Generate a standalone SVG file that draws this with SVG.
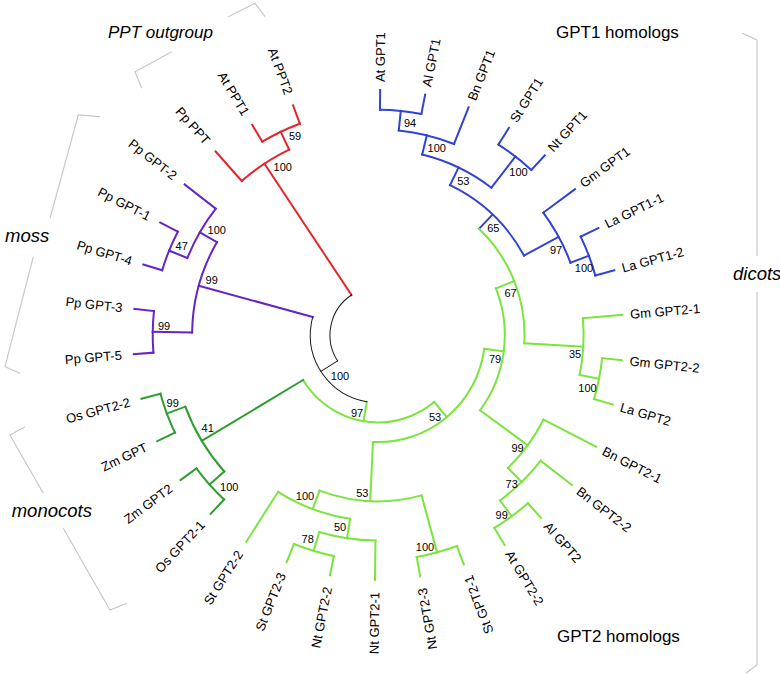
<svg xmlns="http://www.w3.org/2000/svg" width="780" height="675" viewBox="0 0 780 675">
<style>
line,circle{fill:none;stroke-width:2;stroke-linecap:square}
.b line,.b circle{stroke:#3043d2}
.g line,.g circle{stroke:#7be53d}
.d line,.d circle{stroke:#2f9e2f}
.p line,.p circle{stroke:#6425c8}
.r line,.r circle{stroke:#e3262b}
.k line,.k circle{stroke:#1a1a1a;stroke-width:1}
text{font-family:"Liberation Sans",Arial,sans-serif;fill:#000}
.lf text{font-size:13px;dominant-baseline:central}
.lf .f{text-anchor:end}
.bs text{font-size:11px;text-anchor:middle;dominant-baseline:central}
.cl text{font-size:17px}
.cl .i{font-style:italic;font-size:18.5px}
.br{fill:none;stroke:#c8c8c8;stroke-width:1.2}
</style>
<rect width="780" height="675" fill="#fff"/>
<g id="connectors" transform="translate(378,335)">
 <g class="b">
  <line x1="225.3" x2="245" transform="rotate(270.5)"/>
  <line x1="225.3" x2="245" transform="rotate(281.1)"/>
  <line x1="205.6" x2="245" transform="rotate(291.7)"/>
  <line x1="225.3" x2="245" transform="rotate(302.3)"/>
  <line x1="225.3" x2="245" transform="rotate(312.9)"/>
  <line x1="205.6" x2="245" transform="rotate(323.5)"/>
  <line x1="225.3" x2="245" transform="rotate(334.1)"/>
  <line x1="225.3" x2="245" transform="rotate(344.7)"/>
  <line x1="205.6" x2="225.3" transform="rotate(275.8)"/>
  <line x1="185.9" x2="205.6" transform="rotate(283.75)"/>
  <line x1="185.9" x2="225.3" transform="rotate(307.6)"/>
  <line x1="166.2" x2="185.9" transform="rotate(295.68)"/>
  <line x1="205.6" x2="225.3" transform="rotate(339.4)"/>
  <line x1="166.2" x2="205.6" transform="rotate(331.45)"/>
  <line x1="146.5" x2="166.2" transform="rotate(313.56)"/>
  <circle r="225.3" pathLength="360" stroke-dasharray="10.6 360" transform="rotate(270.5)"/>
  <circle r="205.6" pathLength="360" stroke-dasharray="15.9 360" transform="rotate(275.8)"/>
  <circle r="225.3" pathLength="360" stroke-dasharray="10.6 360" transform="rotate(302.3)"/>
  <circle r="185.9" pathLength="360" stroke-dasharray="23.85 360" transform="rotate(283.75)"/>
  <circle r="225.3" pathLength="360" stroke-dasharray="10.6 360" transform="rotate(334.1)"/>
  <circle r="205.6" pathLength="360" stroke-dasharray="15.9 360" transform="rotate(323.5)"/>
  <circle r="166.2" pathLength="360" stroke-dasharray="35.77 360" transform="rotate(295.68)"/>
 </g>
 <g class="g">
  <line x1="205.6" x2="245" transform="rotate(355.3)"/>
  <line x1="225.3" x2="245" transform="rotate(365.9)"/>
  <line x1="225.3" x2="245" transform="rotate(376.5)"/>
  <line x1="185.9" x2="245" transform="rotate(387.1)"/>
  <line x1="205.6" x2="245" transform="rotate(397.7)"/>
  <line x1="225.3" x2="245" transform="rotate(408.3)"/>
  <line x1="225.3" x2="245" transform="rotate(418.9)"/>
  <line x1="225.3" x2="245" transform="rotate(429.5)"/>
  <line x1="225.3" x2="245" transform="rotate(440.1)"/>
  <line x1="205.6" x2="245" transform="rotate(450.7)"/>
  <line x1="225.3" x2="245" transform="rotate(461.3)"/>
  <line x1="225.3" x2="245" transform="rotate(471.9)"/>
  <line x1="185.9" x2="245" transform="rotate(482.5)"/>
  <line x1="205.6" x2="225.3" transform="rotate(371.2)"/>
  <line x1="146.5" x2="205.6" transform="rotate(363.25)"/>
  <line x1="126.8" x2="146.5" transform="rotate(338.41)"/>
  <line x1="205.6" x2="225.3" transform="rotate(413.6)"/>
  <line x1="185.9" x2="205.6" transform="rotate(405.65)"/>
  <line x1="126.8" x2="185.9" transform="rotate(396.38)"/>
  <line x1="107.1" x2="126.8" transform="rotate(367.39)"/>
  <line x1="166.2" x2="225.3" transform="rotate(434.8)"/>
  <line x1="205.6" x2="225.3" transform="rotate(466.6)"/>
  <line x1="185.9" x2="205.6" transform="rotate(458.65)"/>
  <line x1="166.2" x2="185.9" transform="rotate(470.58)"/>
  <line x1="107.1" x2="166.2" transform="rotate(452.69)"/>
  <line x1="87.4" x2="107.1" transform="rotate(410.04)"/>
  <line x1="67.7" x2="87.4" transform="rotate(459.52)"/>
  <circle r="225.3" pathLength="360" stroke-dasharray="10.6 360" transform="rotate(365.9)"/>
  <circle r="205.6" pathLength="360" stroke-dasharray="15.9 360" transform="rotate(355.3)"/>
  <circle r="146.5" pathLength="360" stroke-dasharray="49.69 360" transform="rotate(313.56)"/>
  <circle r="225.3" pathLength="360" stroke-dasharray="10.6 360" transform="rotate(408.3)"/>
  <circle r="205.6" pathLength="360" stroke-dasharray="15.9 360" transform="rotate(397.7)"/>
  <circle r="185.9" pathLength="360" stroke-dasharray="18.55 360" transform="rotate(387.1)"/>
  <circle r="126.8" pathLength="360" stroke-dasharray="57.97 360" transform="rotate(338.41)"/>
  <circle r="225.3" pathLength="360" stroke-dasharray="10.6 360" transform="rotate(429.5)"/>
  <circle r="225.3" pathLength="360" stroke-dasharray="10.6 360" transform="rotate(461.3)"/>
  <circle r="205.6" pathLength="360" stroke-dasharray="15.9 360" transform="rotate(450.7)"/>
  <circle r="185.9" pathLength="360" stroke-dasharray="23.85 360" transform="rotate(458.65)"/>
  <circle r="166.2" pathLength="360" stroke-dasharray="35.78 360" transform="rotate(434.8)"/>
  <circle r="107.1" pathLength="360" stroke-dasharray="85.3 360" transform="rotate(367.39)"/>
  <circle r="87.4" pathLength="360" stroke-dasharray="98.96 360" transform="rotate(410.04)"/>
 </g>
 <g class="d">
  <line x1="225.3" x2="245" transform="rotate(493.1)"/>
  <line x1="225.3" x2="245" transform="rotate(503.7)"/>
  <line x1="225.3" x2="245" transform="rotate(514.3)"/>
  <line x1="225.3" x2="245" transform="rotate(524.9)"/>
  <line x1="205.6" x2="225.3" transform="rotate(498.4)"/>
  <line x1="205.6" x2="225.3" transform="rotate(519.6)"/>
  <line x1="87.4" x2="205.6" transform="rotate(509)"/>
  <circle r="225.3" pathLength="360" stroke-dasharray="10.6 360" transform="rotate(493.1)"/>
  <circle r="225.3" pathLength="360" stroke-dasharray="10.6 360" transform="rotate(514.3)"/>
  <circle r="205.6" pathLength="360" stroke-dasharray="21.2 360" transform="rotate(498.4)"/>
 </g>
 <g class="p">
  <line x1="225.3" x2="245" transform="rotate(535.5)"/>
  <line x1="225.3" x2="245" transform="rotate(546.1)"/>
  <line x1="225.3" x2="245" transform="rotate(556.7)"/>
  <line x1="225.3" x2="245" transform="rotate(567.3)"/>
  <line x1="205.6" x2="245" transform="rotate(577.9)"/>
  <line x1="185.9" x2="225.3" transform="rotate(540.8)"/>
  <line x1="205.6" x2="225.3" transform="rotate(562)"/>
  <line x1="185.9" x2="205.6" transform="rotate(569.95)"/>
  <line x1="67.7" x2="185.9" transform="rotate(555.38)"/>
  <circle r="225.3" pathLength="360" stroke-dasharray="10.6 360" transform="rotate(535.5)"/>
  <circle r="225.3" pathLength="360" stroke-dasharray="10.6 360" transform="rotate(556.7)"/>
  <circle r="205.6" pathLength="360" stroke-dasharray="15.9 360" transform="rotate(562)"/>
  <circle r="185.9" pathLength="360" stroke-dasharray="29.15 360" transform="rotate(540.8)"/>
 </g>
 <g class="r">
  <line x1="205.6" x2="245" transform="rotate(588.5)"/>
  <line x1="225.3" x2="245" transform="rotate(599.1)"/>
  <line x1="225.3" x2="245" transform="rotate(609.7)"/>
  <line x1="205.6" x2="225.3" transform="rotate(604.4)"/>
  <line x1="48" x2="205.6" transform="rotate(596.45)"/>
  <circle r="225.3" pathLength="360" stroke-dasharray="10.6 360" transform="rotate(599.1)"/>
  <circle r="205.6" pathLength="360" stroke-dasharray="15.9 360" transform="rotate(588.5)"/>
 </g>
 <g class="k">
  <line x1="48" x2="67.7" transform="rotate(507.45)"/>
  <circle r="67.7" pathLength="360" stroke-dasharray="95.86 360" transform="rotate(459.52)"/>
  <circle r="48" pathLength="360" stroke-dasharray="89 360" transform="rotate(507.45)"/>
 </g>
</g>
<g class="lf" transform="translate(378,335)">
 <g id="At_GPT1"><text transform="rotate(270.5) translate(253 0)">At GPT1</text></g>
 <g id="Al_GPT1"><text transform="rotate(281.1) translate(253 0)">Al GPT1</text></g>
 <g id="Bn_GPT1"><text transform="rotate(291.7) translate(253 0)">Bn GPT1</text></g>
 <g id="St_GPT1"><text transform="rotate(302.3) translate(253 0)">St GPT1</text></g>
 <g id="Nt_GPT1"><text transform="rotate(312.9) translate(253 0)">Nt GPT1</text></g>
 <g id="Gm_GPT1"><text transform="rotate(323.5) translate(253 0)">Gm GPT1</text></g>
 <g id="La_GPT1-1"><text transform="rotate(334.1) translate(253 0)">La GPT1-1</text></g>
 <g id="La_GPT1-2"><text transform="rotate(344.7) translate(253 0)">La GPT1-2</text></g>
 <g id="Gm_GPT2-1"><text transform="rotate(355.3) translate(253 0)">Gm GPT2-1</text></g>
 <g id="Gm_GPT2-2"><text transform="rotate(365.9) translate(253 0)">Gm GPT2-2</text></g>
 <g id="La_GPT2"><text transform="rotate(376.5) translate(253 0)">La GPT2</text></g>
 <g id="Bn_GPT2-1"><text transform="rotate(387.1) translate(253 0)">Bn GPT2-1</text></g>
 <g id="Bn_GPT2-2"><text transform="rotate(397.7) translate(253 0)">Bn GPT2-2</text></g>
 <g id="Al_GPT2"><text transform="rotate(408.3) translate(253 0)">Al GPT2</text></g>
 <g id="At_GPT2-2"><text transform="rotate(418.9) translate(253 0)">At GPT2-2</text></g>
 <g id="St_GPT2-1"><text class="f" transform="rotate(429.5) translate(257 0) rotate(180)">St GPT2-1</text></g>
 <g id="Nt_GPT2-3"><text class="f" transform="rotate(440.1) translate(257 0) rotate(180)">Nt GPT2-3</text></g>
 <g id="Nt_GPT2-1"><text class="f" transform="rotate(450.7) translate(257 0) rotate(180)">Nt GPT2-1</text></g>
 <g id="Nt_GPT2-2"><text class="f" transform="rotate(461.3) translate(257 0) rotate(180)">Nt GPT2-2</text></g>
 <g id="St_GPT2-3"><text class="f" transform="rotate(471.9) translate(257 0) rotate(180)">St GPT2-3</text></g>
 <g id="St_GPT2-2"><text class="f" transform="rotate(482.5) translate(257 0) rotate(180)">St GPT2-2</text></g>
 <g id="Os_GPT2-1"><text class="f" transform="rotate(493.1) translate(257 0) rotate(180)">Os GPT2-1</text></g>
 <g id="Zm_GPT2"><text class="f" transform="rotate(503.7) translate(257 0) rotate(180)">Zm GPT2</text></g>
 <g id="Zm_GPT"><text class="f" transform="rotate(514.3) translate(257 0) rotate(180)">Zm GPT</text></g>
 <g id="Os_GPT2-2"><text class="f" transform="rotate(524.9) translate(257 0) rotate(180)">Os GPT2-2</text></g>
 <g id="Pp_GPT-5"><text class="f" transform="rotate(535.5) translate(257 0) rotate(180)">Pp GPT-5</text></g>
 <g id="Pp_GPT-3"><text class="f" transform="rotate(546.1) translate(257 0) rotate(180)">Pp GPT-3</text></g>
 <g id="Pp_GPT-4"><text class="f" transform="rotate(556.7) translate(257 0) rotate(180)">Pp GPT-4</text></g>
 <g id="Pp_GPT-1"><text class="f" transform="rotate(567.3) translate(257 0) rotate(180)">Pp GPT-1</text></g>
 <g id="Pp_GPT-2"><text class="f" transform="rotate(577.9) translate(257 0) rotate(180)">Pp GPT-2</text></g>
 <g id="Pp_PPT"><text class="f" transform="rotate(588.5) translate(257 0) rotate(180)">Pp PPT</text></g>
 <g id="At_PPT1"><text class="f" transform="rotate(599.1) translate(257 0) rotate(180)">At PPT1</text></g>
 <g id="At_PPT2"><text class="f" transform="rotate(609.7) translate(257 0) rotate(180)">At PPT2</text></g>
</g>
<g class="bs" id="support">
 <text x="295" y="136">59</text>
 <text x="282.7" y="167.3">100</text>
 <text x="410" y="122.7">94</text>
 <text x="436.7" y="147.7">100</text>
 <text x="463.3" y="180.5">53</text>
 <text x="518.5" y="172">100</text>
 <text x="556" y="249.5">97</text>
 <text x="584" y="268">100</text>
 <text x="493.3" y="228.3">65</text>
 <text x="216.7" y="230">100</text>
 <text x="181.7" y="246">47</text>
 <text x="211.7" y="280">99</text>
 <text x="164" y="326">99</text>
 <text x="340" y="375.7">100</text>
 <text x="357" y="412.5">97</text>
 <text x="435" y="417">53</text>
 <text x="495" y="359">79</text>
 <text x="510.5" y="292.7">67</text>
 <text x="575" y="354">35</text>
 <text x="587.5" y="388.3">100</text>
 <text x="517.5" y="448.3">99</text>
 <text x="511.7" y="484">73</text>
 <text x="501.7" y="515">99</text>
 <text x="172.7" y="402.7">99</text>
 <text x="207.7" y="428.3">41</text>
 <text x="229.3" y="487.3">100</text>
 <text x="362.3" y="492.7">53</text>
 <text x="305" y="496">100</text>
 <text x="340" y="526.7">50</text>
 <text x="307.7" y="539.3">78</text>
 <text x="425" y="546.7">100</text>
</g>
<g class="cl" id="clades">
 <polyline class="br" points="141.7,88.3 135,71.7 171.7,51.7"/>
 <polyline class="br" points="228.3,16.7 255,3.3 265,16.7"/>
 <polyline class="br" points="100,116.7 78.3,115 50,218.3"/>
 <polyline class="br" points="33.3,256.7 5,366.7 20,373.3"/>
 <polyline class="br" points="25,426.7 10,435 43.3,493.3"/>
 <polyline class="br" points="63.3,528.3 110,610 126.7,603.3"/>
 <polyline class="br" points="742,33 757,40 757,256"/>
 <polyline class="br" points="757,292 757,665 746,673"/>
 <text class="i" x="108" y="38" style="font-size:17px">PPT outgroup</text>
 <text x="556" y="38">GPT1 homologs</text>
 <text class="i" x="733" y="280">dicots</text>
 <text class="i" x="5" y="242">moss</text>
 <text class="i" x="11.7" y="517">monocots</text>
 <text x="557" y="642">GPT2 homologs</text>
</g>
</svg>
